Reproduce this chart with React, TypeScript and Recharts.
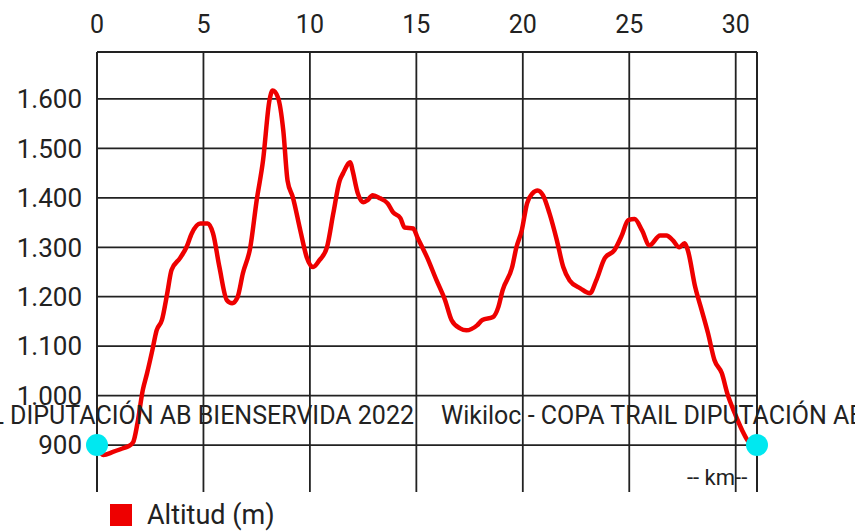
import {
  ComposedChart,
  Line,
  XAxis,
  YAxis,
  CartesianGrid,
  ReferenceDot,
} from "recharts";

const km = [
  0, 0.3, 0.75, 1.2, 1.45, 1.7, 1.9, 2.15, 2.35, 2.6, 2.8, 3.05, 3.3, 3.5,
  3.9, 4.2, 4.45, 4.85, 5.2, 5.45, 5.75, 6.1, 6.35, 6.6, 6.85, 7.2, 7.5, 7.8,
  8.1, 8.25, 8.5, 8.75, 8.95, 9.2, 9.55, 9.85, 10.15, 10.45, 10.8, 11.1, 11.4,
  11.55, 11.9, 12.0, 12.25, 12.5, 12.7, 12.95, 13.3, 13.65, 13.9, 14.25, 14.45,
  14.85, 15.05, 15.5, 15.95, 16.35, 16.65, 17.05, 17.35, 17.85, 18.1, 18.6,
  18.85, 19.05, 19.5, 19.7, 19.95, 20.2, 20.45, 20.7, 20.95, 21.25, 21.6,
  21.9, 22.2, 22.7, 23.15, 23.45, 23.85, 24.3, 24.65, 24.95, 25.25, 25.6,
  25.95, 26.45, 26.75, 27.05, 27.35, 27.6, 27.75, 28.1, 28.4, 28.7, 29.0,
  29.35, 29.6, 29.95, 30.3, 30.55, 30.8,
];

const altitude = [
  895, 880, 886, 893, 897, 906, 944, 1011, 1045, 1092, 1132, 1153, 1207, 1254,
  1278, 1300, 1328, 1348, 1348, 1328, 1260, 1193, 1187, 1199, 1247, 1300, 1395,
  1476, 1597, 1617, 1603, 1536, 1435, 1401, 1334, 1280, 1260, 1274, 1300, 1369,
  1435, 1449, 1472, 1456, 1409, 1391, 1395, 1405, 1399, 1389, 1371, 1359, 1340,
  1338, 1320, 1280, 1233, 1193, 1153, 1136, 1132, 1142, 1153, 1159, 1179, 1213,
  1260, 1300, 1334, 1389, 1409, 1415, 1405, 1369, 1314, 1260, 1233, 1217, 1207,
  1233, 1278, 1294, 1324, 1355, 1357, 1334, 1304, 1324, 1324, 1314, 1300, 1308,
  1294, 1219, 1173, 1126, 1072, 1045, 1005, 965, 930, 910, 900,
];

const xTicks = [0, 5, 10, 15, 20, 25, 30];
const yTicks = [900, 1000, 1100, 1200, 1300, 1400, 1500, 1600];
const kmRange = [0, 31];

const markerKm = [0, 31];
const markerAlt = [900, 900];

const title = "Wikiloc - COPA TRAIL DIPUTACIÓN AB BIENSERVIDA 2022";
const unitLabel = "-- km--";
const seriesName = "Altitud (m)";

const data = km.map((k, i) => ({ km: k, alt: altitude[i] }));

// horizontal grid lines, one two-point series per altitude tick
const gridRows = yTicks.map((t) => kmRange.map((k) => ({ km: k, alt: t })));

const fmtAlt = (v: number) => v.toLocaleString("de-DE");

const font = "Roboto, 'Noto Sans', sans-serif";
const gridColor = "#222";

export default function App() {
  return (
    <div
      style={{
        position: "absolute",
        left: 0,
        top: 0,
        width: 855,
        height: 531,
        overflow: "hidden",
        background: "#fff",
        fontFamily: font,
      }}
    >
      <ComposedChart
        width={855}
        height={531}
        data={data}
        margin={{ top: 0, right: 0, left: 0, bottom: 39 }}
      >
        <CartesianGrid
          horizontal={false}
          stroke={gridColor}
          strokeWidth={1.8}
        />
        <XAxis
          dataKey="km"
          type="number"
          orientation="top"
          domain={[0, 31]}
          ticks={xTicks}
          height={52}
          tickSize={0}
          tickMargin={19}
          axisLine={{ stroke: gridColor, strokeWidth: 1.8 }}
          tick={{ fill: "#222", fontSize: 25, fontFamily: font }}
        />
        <YAxis
          type="number"
          orientation="left"
          domain={[805, 1695]}
          ticks={yTicks}
          width={97}
          tickSize={0}
          tickMargin={15}
          axisLine={{ stroke: gridColor, strokeWidth: 1.8 }}
          tickFormatter={fmtAlt}
          tick={{ fill: "#222", fontSize: 26, fontFamily: font }}
        />
        <YAxis
          yAxisId="right"
          type="number"
          orientation="right"
          domain={[805, 1695]}
          ticks={yTicks}
          width={98}
          tickSize={0}
          tickMargin={15}
          axisLine={{ stroke: gridColor, strokeWidth: 1.8 }}
          tickFormatter={fmtAlt}
          tick={{ fill: "#222", fontSize: 26, fontFamily: font }}
        />
        {gridRows.map((row, i) => (
          <Line
            key={"grid" + i}
            data={row}
            dataKey="alt"
            type="linear"
            stroke={gridColor}
            strokeWidth={1.8}
            dot={false}
            activeDot={false}
            legendType="none"
            isAnimationActive={false}
          />
        ))}
        <Line
          type="monotone"
          dataKey="alt"
          name={seriesName}
          stroke="#ee0000"
          strokeWidth={4.5}
          strokeLinejoin="round"
          dot={false}
          isAnimationActive={false}
        />
        {markerKm.map((k, i) => (
          <ReferenceDot
            key={i}
            x={k}
            y={markerAlt[i]}
            r={11}
            fill="#00e8f0"
            stroke="none"
            ifOverflow="visible"
          />
        ))}
      </ComposedChart>

      <div
        style={{
          position: "absolute",
          right: 855 - 414,
          top: 401,
          fontSize: 25,
          color: "#222",
          whiteSpace: "nowrap",
        }}
      >
        {title}
      </div>
      <div
        style={{
          position: "absolute",
          left: 441,
          top: 401,
          fontSize: 25,
          color: "#222",
          whiteSpace: "nowrap",
        }}
      >
        {title}
      </div>
      <div
        style={{
          position: "absolute",
          left: 687,
          top: 465,
          fontSize: 22,
          color: "#222",
          whiteSpace: "nowrap",
        }}
      >
        {unitLabel}
      </div>

      <div
        style={{
          position: "absolute",
          left: 110,
          top: 499,
          display: "flex",
          alignItems: "center",
          gap: 15,
        }}
      >
        <div style={{ width: 22, height: 22, background: "#ee0000" }} />
        <span style={{ fontSize: 27, color: "#222" }}>{seriesName}</span>
      </div>
    </div>
  );
}
